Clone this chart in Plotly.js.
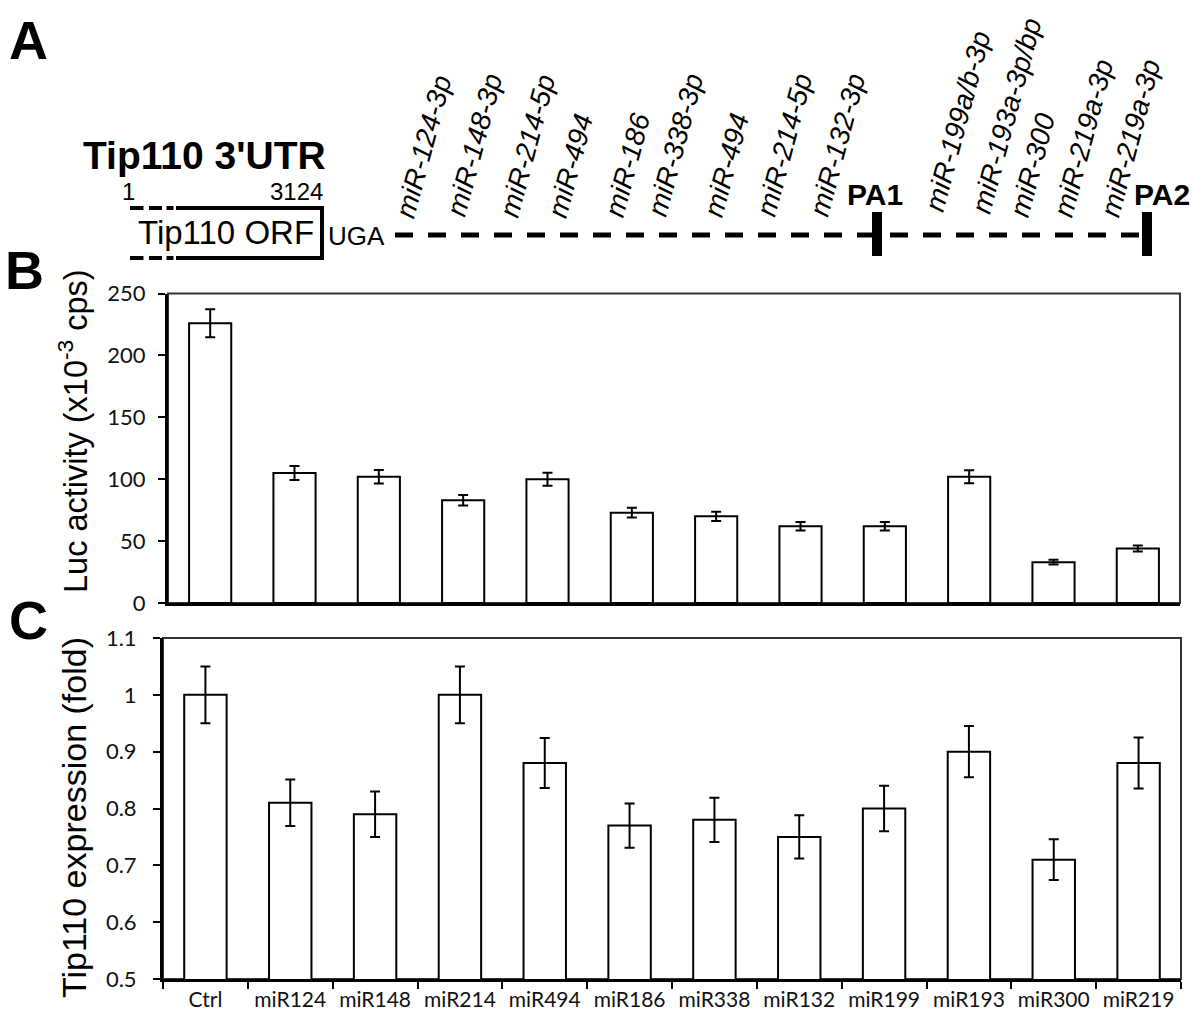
<!DOCTYPE html>
<html><head><meta charset="utf-8">
<script src="https://cdn.plot.ly/plotly-3.0.1.min.js"></script>
<style>html,body{margin:0;padding:0;background:#fff}#chart{width:1192px;height:1019px}</style>
</head><body><div id="chart"></div>
<script>
// ---------------- data ----------------
const categories = ['Ctrl','miR124','miR148','miR214','miR494','miR186','miR338','miR132','miR199','miR193','miR300','miR219'];
const lucValues  = [226, 105, 102, 83, 100, 73, 70, 62, 62, 102, 33, 44];
const lucErrors  = [11.3, 5.7, 5.4, 4.3, 5.2, 3.9, 3.8, 3.4, 3.4, 5.2, 2.0, 2.4];
const exprValues = [1.00, 0.81, 0.79, 1.00, 0.88, 0.77, 0.78, 0.75, 0.80, 0.90, 0.71, 0.88];
const exprErrors = [0.050, 0.041, 0.040, 0.050, 0.044, 0.039, 0.039, 0.038, 0.040, 0.045, 0.036, 0.045];
const lucTicks   = [0, 50, 100, 150, 200, 250];
const exprTicks  = [0.5, 0.6, 0.7, 0.8, 0.9, 1.0, 1.1];
const exprTickText = ['0.5','0.6','0.7','0.8','0.9','1','1.1'];
const siteLabels = ['miR-124-3p','miR-148-3p','miR-214-5p','miR-494','miR-186','miR-338-3p','miR-494',
                    'miR-214-5p','miR-132-3p','miR-199a/b-3p','miR-193a-3p/bp','miR-300','miR-219a-3p','miR-219a-3p'];

// ---------------- layout helpers ----------------
const W = 1192, H = 1019;
const px = x => x / W;
const py = y => 1 - y / H;
const sitePos = [[424,147],[474,145],[527,146],[571,166],[627,165],[675,145],[726,165],
                 [784,145],[837,145],[958,122],[1006,116],[1032,165],[1083,138],[1130,138]];

const TXT = 'Liberation Sans, Arial, sans-serif';
const TICK = 'Lato, Carlito, Calibri, sans-serif';

function txt(x, y, text, size, extra) {
  return Object.assign({xref:'paper', yref:'paper', x:px(x), y:py(y), text:text, showarrow:false,
    xanchor:'center', yanchor:'middle', font:{family:TXT, size:size, color:'#000'}}, extra||{});
}
function seg(x0, y0, x1, y1, w, dash) {
  return {type:'line', xref:'paper', yref:'paper', x0:px(x0), y0:py(y0), x1:px(x1), y1:py(y1),
    line:{color:'#000', width:w, dash:dash||'solid'}};
}

const annotations = [
  txt(28, 40, '<b>A</b>', 54),
  txt(24, 270, '<b>B</b>', 54),
  txt(28, 620, '<b>C</b>', 54),
  txt(205, 156, "<b>Tip110 3'UTR</b>", 39),
  txt(128, 192, '1', 24),
  txt(296, 192, '3124', 24),
  txt(226, 233, 'Tip110 ORF', 33),
  txt(356, 236, 'UGA', 26),
  txt(875, 194, '<b>PA1</b>', 30),
  txt(1162, 194, '<b>PA2</b>', 30),
  txt(73, 431, 'Luc activity (x10<sup>-3</sup> cps)', 32.5, {textangle:-90}),
  txt(74, 818, 'Tip110 expression (fold)', 34, {textangle:-90})
];
siteLabels.forEach((s, i) => {
  annotations.push(txt(sitePos[i][0], sitePos[i][1], '<i>' + s + '</i>', 28, {textangle:-75}));
});

const shapes = [
  // ORF box
  seg(130, 208, 143.5, 208, 4), seg(149, 208, 162, 208, 4), seg(166.5, 208, 173.5, 208, 4), seg(176, 208, 322, 208, 4),
  seg(130, 258, 143.5, 258, 4), seg(149, 258, 162, 258, 4), seg(166.5, 258, 173.5, 258, 4), seg(176, 258, 322, 258, 4),
  seg(322, 206, 322, 260, 4),
  // 3'UTR dashed line
  seg(395, 235, 1147, 235, 5, '18px,15px'),
  // PA sites
  seg(877, 212, 877, 256, 10), seg(1147, 212, 1147, 256, 10),
  // frames
  {type:'rect', xref:'x domain', yref:'y domain', x0:0, x1:1, y0:0, y1:1, layer:'below', line:{color:'#333', width:2}},
  {type:'rect', xref:'x2 domain', yref:'y2 domain', x0:0, x1:1, y0:0, y1:1, layer:'below', line:{color:'#333', width:2}}
];

const barStyle = {color:'#fff', line:{color:'#000', width:2}};
const traces = [
  {type:'bar', x:categories, y:lucValues, xaxis:'x', yaxis:'y', width:0.5, marker:barStyle,
   error_y:{type:'data', array:lucErrors, visible:true, color:'#000', thickness:2, width:5}, hoverinfo:'skip'},
  {type:'bar', x:categories, y:exprValues, xaxis:'x2', yaxis:'y2', width:0.5, marker:barStyle,
   error_y:{type:'data', array:exprErrors, visible:true, color:'#000', thickness:2, width:5}, hoverinfo:'skip'}
];

const layout = {
  width:W, height:H, margin:{l:0, r:0, t:0, b:0},
  paper_bgcolor:'#fff', plot_bgcolor:'rgba(0,0,0,0)', showlegend:false, bargap:0.5,
  xaxis:{domain:[px(168), px(1180)], anchor:'y', type:'category', range:[-0.5, 11.5],
    showticklabels:false, ticks:'', showline:true, linecolor:'#000', linewidth:3, showgrid:false, zeroline:false, fixedrange:true},
  yaxis:{domain:[py(603), py(293.5)], anchor:'x', range:[0, 250], tickmode:'array', tickvals:lucTicks,
    ticks:'outside', ticklen:7, tickwidth:2, tickcolor:'#000', showline:true, linecolor:'#000', linewidth:3,
    showgrid:false, zeroline:false, tickfont:{family:TICK, size:22, color:'#111'}, ticklabelstandoff:8, fixedrange:true},
  xaxis2:{domain:[px(163), px(1181)], anchor:'y2', type:'category', range:[-0.5, 11.5],
    ticks:'outside', tickson:'boundaries', ticklen:7, tickwidth:2, tickcolor:'#000', showline:true, linecolor:'#000', linewidth:3,
    showgrid:false, zeroline:false, tickfont:{family:TICK, size:21, color:'#111'}, fixedrange:true},
  yaxis2:{domain:[py(979), py(638)], anchor:'x2', range:[0.5, 1.1], tickmode:'array', tickvals:exprTicks, ticktext:exprTickText,
    ticks:'outside', ticklen:7, tickwidth:2, tickcolor:'#000', showline:true, linecolor:'#000', linewidth:3,
    showgrid:false, zeroline:false, tickfont:{family:TICK, size:22, color:'#111'}, ticklabelstandoff:12, fixedrange:true},
  annotations:annotations,
  shapes:shapes
};

Plotly.newPlot('chart', traces, layout, {displayModeBar:false, staticPlot:true});
</script>
</body></html>
